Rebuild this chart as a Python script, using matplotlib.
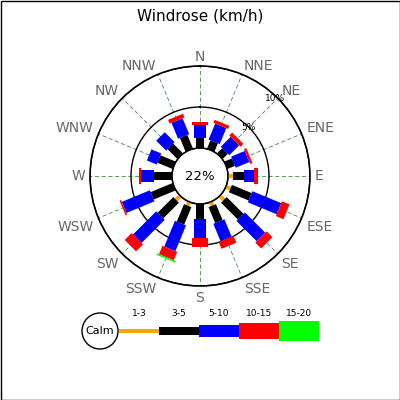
import numpy as np
import matplotlib
matplotlib.use("Agg")
import matplotlib.pyplot as plt
from matplotlib.patches import Rectangle, Circle

# wind directions, clockwise from north
directions = ['N', 'NNE', 'NE', 'ENE', 'E', 'ESE', 'SE', 'SSE',
              'S', 'SSW', 'SW', 'WSW', 'W', 'WNW', 'NW', 'NNW']

# percentage per speed range for each direction
r_1_3   = [0.0, 0.0, 0.0, 0.0, 0.6, 0.6, 0.7, 0.5, 0.0, 0.5, 0.7, 0.0, 0.0, 0.0, 0.0, 0.0]
r_3_5   = [1.2, 1.1, 0.9, 1.0, 1.3, 2.6, 2.9, 2.1, 1.8, 2.3, 2.7, 2.9, 2.2, 2.0, 1.7, 1.8]
r_5_10  = [1.6, 2.1, 1.7, 1.8, 1.3, 3.8, 3.5, 2.3, 2.3, 3.4, 4.0, 3.7, 1.6, 1.3, 1.7, 2.1]
r_10_15 = [0.4, 0.4, 0.5, 0.3, 0.5, 1.0, 1.0, 0.9, 1.2, 1.1, 1.2, 0.2, 0.2, 0.0, 0.0, 0.5]
r_15_20 = [0.0, 0.0, 0.0, 0.0, 0.0, 0.0, 0.0, 0.0, 0.0, 0.2, 0.0, 0.0, 0.0, 0.0, 0.0, 0.0]
calm = 22

range_labels = ['1-3', '3-5', '5-10', '10-15', '15-20']
range_colors = ['#ffa500', '#000000', '#0000ff', '#ff0000', '#00ff00']
range_px = [4, 8, 12, 16, 20]  # bar thickness in pixels

ranges = [r_1_3, r_3_5, r_5_10, r_10_15, r_15_20]

fig = plt.figure(figsize=(4, 4), dpi=100)
fig.patch.set_facecolor('white')

# overlay axes in pixel coords for title, legend and frame
bg = fig.add_axes([0, 0, 1, 1])
bg.set_xlim(0, 400)
bg.set_ylim(400, 0)
bg.axis('off')
bg.add_patch(Rectangle((0.5, 0.5), 399, 399, fill=False, ec='black', lw=1))
bg.text(200, 16, 'Windrose (km/h)', ha='center', va='center', fontsize=11)

# legend
bg.add_patch(Circle((100, 331), 18, fc='white', ec='black', lw=1))
bg.text(100, 331, 'Calm', ha='center', va='center', fontsize=8)
x0 = 119
for lab, col, h in zip(range_labels, range_colors, range_px):
    bg.add_patch(Rectangle((x0, 331 - h / 2), 40, h, fc=col, ec='none'))
    bg.text(x0 + 20, 314, lab, ha='center', va='center', fontsize=6.5)
    x0 += 40

# the rose
ax = fig.add_axes([0.225, 0.285, 0.55, 0.55], projection='polar')
ax.set_theta_zero_location('N')
ax.set_theta_direction(-1)
ax.set_ylim(0, 10)
ax.set_rorigin(-3.415)

angles = np.radians(np.arange(16) * 22.5)
ax.set_xticks(angles)
ax.set_xticklabels([])
ax.set_yticks([5, 10])
ax.set_yticklabels([])
ax.xaxis.grid(True, color='#3f8f3f', ls=(0, (5, 3)), lw=0.6)
ax.yaxis.grid(True, color='black', ls='-', lw=1)
ax.spines['polar'].set_linewidth(1.2)
ax.spines['inner'].set_color('black')
ax.spines['inner'].set_linewidth(1)

# compass labels, anchored just outside the outer circle
for i, (th, name) in enumerate(zip(angles, directions)):
    s, c = np.sin(th), np.cos(th)
    ha = 'center' if abs(s) < 0.1 else ('left' if s > 0 else 'right')
    va = 'center' if abs(c) < 0.1 else ('baseline' if c > 0 else 'top')
    ax.text(th, 10.6, name, ha=ha, va=va, fontsize=10, color='#666666',
            clip_on=False)

for i, th in enumerate(angles):
    r0 = 0.0
    for vals, col, h in zip(ranges, range_colors, range_px):
        v = vals[i]
        if v > 0:
            ax.plot([th, th], [r0, r0 + v], color=col, lw=h * 0.72,
                    solid_capstyle='butt', zorder=3)
        r0 += v

tt = np.linspace(0, 2 * np.pi, 200)
ax.plot(tt, np.zeros_like(tt), color='black', lw=1, clip_on=False, zorder=4)
ax.text(0.5, 0.5, '%d%%' % calm, transform=ax.transAxes,
        ha='center', va='center', fontsize=9.5)
ax.text(np.radians(45), 5, '5%', ha='center', va='center', fontsize=6.5, zorder=5)
ax.text(np.radians(44), 9.7, '10%', ha='center', va='center', fontsize=6.5, zorder=5)

fig.savefig('out.png', dpi=100)
